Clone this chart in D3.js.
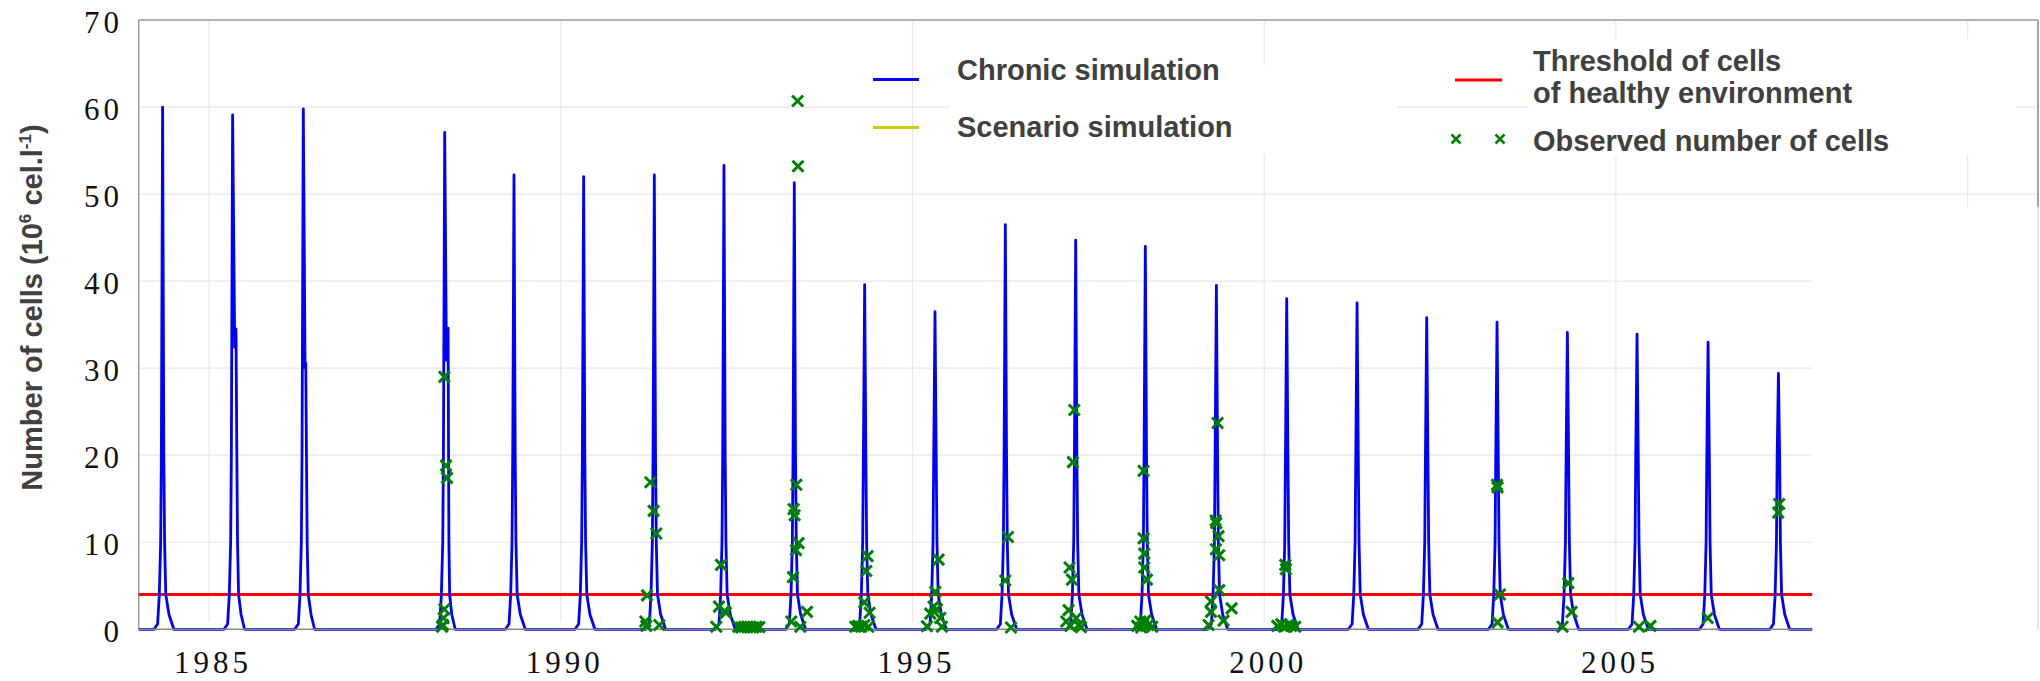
<!DOCTYPE html>
<html>
<head>
<meta charset="utf-8">
<script src="https://cdn.jsdelivr.net/npm/d3@7"></script>
<style>
  body { margin: 0; background: #fff; }
  svg { display: block; }
</style>
</head>
<body>
<svg id="chart"></svg>
<script>
// tick labels
var yTicks = [0, 10, 20, 30, 40, 50, 60, 70];
var xTicks = [1985, 1990, 1995, 2000, 2005];
var xGridYears = [1985, 1990, 1995, 2000, 2005, 2010];

// threshold of cells for a healthy environment
var threshold = 4;

// chronic simulation, [year, 10^6 cells per litre]
var chronicSim = [
  [1984.000, 0],
  [1984.218,0],[1984.269,0.6],[1984.293,4],[1984.312,10],[1984.322,20],[1984.340,60.0],[1984.357,20],[1984.368,10],[1984.385,4],[1984.430,1.7],[1984.500,0],
  [1985.213,0],[1985.264,0.6],[1985.288,4],[1985.307,10],[1985.317,20],[1985.335,59.1],[1985.365,32.4],[1985.383,34.5],[1985.395,20],[1985.405,10],[1985.420,4],[1985.455,1.7],[1985.505,0],
  [1986.218,0],[1986.269,0.6],[1986.293,4],[1986.312,10],[1986.322,20],[1986.340,59.8],[1986.365,30.0],[1986.375,30.6],[1986.385,20],[1986.395,10],[1986.410,4],[1986.450,1.7],[1986.500,0],
  [1988.228,0],[1988.279,0.6],[1988.303,4],[1988.322,10],[1988.332,20],[1988.350,57.1],[1988.375,30.9],[1988.398,34.6],[1988.405,20],[1988.410,10],[1988.420,4],[1988.450,1.7],[1988.500,0],
  [1989.213,0],[1989.264,0.6],[1989.288,4],[1989.307,10],[1989.317,20],[1989.335,52.2],[1989.352,20],[1989.363,10],[1989.380,4],[1989.425,1.7],[1989.495,0],
  [1990.203,0],[1990.254,0.6],[1990.278,4],[1990.297,10],[1990.307,20],[1990.325,52.0],[1990.342,20],[1990.353,10],[1990.370,4],[1990.415,1.7],[1990.485,0],
  [1991.208,0],[1991.259,0.6],[1991.283,4],[1991.302,10],[1991.312,20],[1991.330,52.2],[1991.347,20],[1991.358,10],[1991.375,4],[1991.420,1.7],[1991.490,0],
  [1992.198,0],[1992.249,0.6],[1992.273,4],[1992.292,10],[1992.302,20],[1992.320,53.3],[1992.337,20],[1992.348,10],[1992.365,4],[1992.410,1.7],[1992.480,0],
  [1993.198,0],[1993.249,0.6],[1993.273,4],[1993.292,10],[1993.302,20],[1993.320,51.3],[1993.337,20],[1993.348,10],[1993.365,4],[1993.410,1.7],[1993.480,0],
  [1994.198,0],[1994.249,0.6],[1994.273,4],[1994.292,10],[1994.302,20],[1994.320,39.6],[1994.337,20],[1994.348,10],[1994.365,4],[1994.410,1.7],[1994.480,0],
  [1995.198,0],[1995.249,0.6],[1995.273,4],[1995.292,10],[1995.302,20],[1995.320,36.5],[1995.337,20],[1995.348,10],[1995.365,4],[1995.410,1.7],[1995.480,0],
  [1996.198,0],[1996.249,0.6],[1996.273,4],[1996.292,10],[1996.302,20],[1996.320,46.5],[1996.337,20],[1996.348,10],[1996.365,4],[1996.410,1.7],[1996.480,0],
  [1997.198,0],[1997.249,0.6],[1997.273,4],[1997.292,10],[1997.302,20],[1997.320,44.7],[1997.337,20],[1997.348,10],[1997.365,4],[1997.410,1.7],[1997.480,0],
  [1998.188,0],[1998.239,0.6],[1998.263,4],[1998.282,10],[1998.292,20],[1998.310,44.0],[1998.327,20],[1998.338,10],[1998.355,4],[1998.400,1.7],[1998.470,0],
  [1999.198,0],[1999.249,0.6],[1999.273,4],[1999.292,10],[1999.302,20],[1999.320,39.5],[1999.337,20],[1999.348,10],[1999.365,4],[1999.410,1.7],[1999.480,0],
  [2000.198,0],[2000.249,0.6],[2000.273,4],[2000.292,10],[2000.302,20],[2000.320,38.0],[2000.337,20],[2000.348,10],[2000.365,4],[2000.410,1.7],[2000.480,0],
  [2001.198,0],[2001.249,0.6],[2001.273,4],[2001.292,10],[2001.302,20],[2001.320,37.5],[2001.337,20],[2001.348,10],[2001.365,4],[2001.410,1.7],[2001.480,0],
  [2002.188,0],[2002.239,0.6],[2002.263,4],[2002.282,10],[2002.292,20],[2002.310,35.8],[2002.327,20],[2002.338,10],[2002.355,4],[2002.400,1.7],[2002.470,0],
  [2003.188,0],[2003.239,0.6],[2003.263,4],[2003.282,10],[2003.292,20],[2003.310,35.3],[2003.327,20],[2003.338,10],[2003.355,4],[2003.400,1.7],[2003.470,0],
  [2004.188,0],[2004.239,0.6],[2004.263,4],[2004.282,10],[2004.292,20],[2004.310,34.1],[2004.327,20],[2004.338,10],[2004.355,4],[2004.400,1.7],[2004.470,0],
  [2005.178,0],[2005.229,0.6],[2005.253,4],[2005.272,10],[2005.282,20],[2005.300,33.9],[2005.317,20],[2005.328,10],[2005.345,4],[2005.390,1.7],[2005.460,0],
  [2006.188,0],[2006.239,0.6],[2006.263,4],[2006.282,10],[2006.292,20],[2006.310,33.0],[2006.327,20],[2006.338,10],[2006.355,4],[2006.400,1.7],[2006.470,0],
  [2007.188,0],[2007.239,0.6],[2007.263,4],[2007.282,10],[2007.292,20],[2007.310,29.4],[2007.327,20],[2007.338,10],[2007.355,4],[2007.400,1.7],[2007.470,0],
  [2007.790, 0]
];

// observed number of cells, [year, 10^6 cells per litre]
var observed = [
  [1988.345,29.0],[1988.369,18.8],[1988.383,17.4],[1988.345,2.3],[1988.335,1.3],[1988.326,0.5],[1988.312,0.3],
  [1991.273,16.9],[1991.320,13.6],[1991.358,11.0],[1991.226,3.9],[1991.202,0.9],[1991.216,0.4],[1991.401,0.5],
  [1992.278,7.4],[1992.249,2.6],[1992.325,2.1],[1992.349,1.9],[1992.211,0.3],
  [1992.524,0.3],[1992.567,0.2],[1992.609,0.3],[1992.652,0.25],[1992.695,0.3],[1992.737,0.2],[1992.780,0.3],[1992.823,0.25],
  [1993.367,60.7],[1993.372,53.2],[1993.348,16.6],[1993.310,13.8],[1993.324,13.1],[1993.381,9.9],[1993.344,9.1],[1993.301,6.0],[1993.500,2.0],[1993.277,0.9],[1993.405,0.3],
  [1994.362,8.4],[1994.343,6.7],[1994.315,3.1],[1994.390,1.9],[1994.187,0.3],[1994.230,0.4],[1994.272,0.3],[1994.315,0.5],[1994.372,0.3],
  [1995.371,8.0],[1995.324,4.3],[1995.300,2.6],[1995.348,2.3],[1995.253,1.8],[1995.395,1.3],[1995.206,0.35],[1995.419,0.3],
  [1996.357,10.6],[1996.319,5.6],[1996.400,0.2],
  [1997.300,25.2],[1997.281,19.2],[1997.233,7.1],[1997.267,5.7],[1997.219,2.2],[1997.328,1.3],[1997.186,0.9],[1997.361,0.5],[1997.243,0.4],[1997.395,0.25],
  [1998.285,18.2],[1998.285,10.45],[1998.295,8.7],[1998.295,7.1],[1998.333,5.7],[1998.195,0.4],[1998.238,0.9],[1998.280,0.6],[1998.309,1.0],[1998.351,0.5],[1998.408,0.3],[1998.252,0.2],
  [1999.337,23.7],[1999.309,12.5],[1999.319,12.2],[1999.351,10.7],[1999.314,9.2],[1999.361,8.5],[1999.361,4.5],[1999.243,3.2],[1999.243,2.0],[1999.536,2.4],[1999.422,1.0],[1999.209,0.5],
  [2000.299,7.4],[2000.309,6.9],[2000.186,0.4],[2000.243,0.6],[2000.285,0.3],[2000.342,0.5],[2000.384,0.4],[2000.441,0.3],
  [2003.310,16.6],[2003.317,16.3],[2003.350,4.0],[2003.317,0.8],
  [2004.322,5.3],[2004.370,2.0],[2004.242,0.3],
  [2005.328,0.3],[2005.491,0.4],
  [2006.305,1.3],
  [2007.321,14.4],[2007.308,13.4]
];

var legendLeft = ["Chronic simulation", "Scenario simulation"];
var legendRight = [["Threshold of cells", "of healthy environment"], ["Observed number of cells"]];

var width = 2040, height = 681;
var dataEnd = 2007.79;

var svg = d3.select("#chart")
  .attr("width", width)
  .attr("height", height);

// scales -- the frame runs on to 2011 although the data stop in 2007
var x = d3.scaleLinear().domain([1984, 2011]).range([138.7, 2038]);
var y = d3.scaleLinear().domain([0, 70]).range([629.3, 20]);

var gridColor = "#e8e8e8";
var textColor = "#404040";
var sans = "'Liberation Sans', Arial, Helvetica, sans-serif";
var serif = "'Liberation Serif', 'Times New Roman', serif";

//horizontal grid (upper two lines run across the legend area)
svg.selectAll(".hgrid")
  .data(yTicks.filter(function (d) { return d > 0 && d < 70; }))
  .enter().append("line")
  .attr("class", "hgrid")
  .attr("x1", x(1984))
  .attr("x2", function (d) { return d >= 50 ? x(2011) : x(dataEnd); })
  .attr("y1", function (d) { return y(d); })
  .attr("y2", function (d) { return y(d); })
  .attr("stroke", gridColor)
  .attr("stroke-width", 1.2);

//vertical grid
svg.selectAll(".vgrid")
  .data(xGridYears)
  .enter().append("line")
  .attr("class", "vgrid")
  .attr("x1", function (d) { return x(d); })
  .attr("x2", function (d) { return x(d); })
  .attr("y1", y(70))
  .attr("y2", function (d) { return d > dataEnd ? 207 : y(0) - 7; })
  .attr("stroke", gridColor)
  .attr("stroke-width", 1.2);

//legend backgrounds hide the grid behind them
svg.append("rect").attr("x", 950).attr("y", 65).attr("width", 447).attr("height", 89).attr("fill", "#fff");
svg.append("rect").attr("x", 1529).attr("y", 39).attr("width", 487).attr("height", 116).attr("fill", "#fff");
//empty area to the right of the data
svg.append("rect").attr("x", x(dataEnd) + 1).attr("y", 208).attr("width", x(2011) - x(dataEnd) - 2).attr("height", 440).attr("fill", "#fff");

//frame
svg.append("line").attr("x1", x(1984)).attr("x2", x(2011)).attr("y1", y(70)).attr("y2", y(70))
  .attr("stroke", "#999").attr("stroke-width", 1.5);
svg.append("line").attr("x1", x(1984)).attr("x2", x(1984)).attr("y1", y(70)).attr("y2", y(0))
  .attr("stroke", "#999").attr("stroke-width", 1.5);
svg.append("line").attr("x1", x(2011)).attr("x2", x(2011)).attr("y1", y(70)).attr("y2", 207)
  .attr("stroke", "#888").attr("stroke-width", 1.5);
svg.append("line").attr("x1", x(2011)).attr("x2", x(2011)).attr("y1", 207).attr("y2", y(0))
  .attr("stroke", "#ddd").attr("stroke-width", 1.5);

//threshold
svg.append("line")
  .attr("x1", x(1984)).attr("x2", x(dataEnd))
  .attr("y1", y(threshold)).attr("y2", y(threshold))
  .attr("stroke", "#ff0000").attr("stroke-width", 3);

//chronic simulation
var line = d3.line()
  .x(function (d) { return x(d[0]); })
  .y(function (d) { return y(d[1]); });

svg.append("path")
  .datum(chronicSim)
  .attr("d", line)
  .attr("fill", "none")
  .attr("stroke", "#0000ff")
  .attr("stroke-width", 2.8)
  .attr("stroke-linejoin", "round");

//bottom axis line
svg.append("line").attr("x1", x(1984)).attr("x2", x(dataEnd)).attr("y1", y(0)).attr("y2", y(0))
  .attr("stroke", "#888").attr("stroke-width", 1.5);

//observations
var cross = "M-5.5,-5.5L5.5,5.5M-5.5,5.5L5.5,-5.5";
svg.selectAll(".obs")
  .data(observed)
  .enter().append("path")
  .attr("class", "obs")
  .attr("d", cross)
  .attr("transform", function (d) { return "translate(" + x(d[0]) + "," + y(d[1]) + ")"; })
  .attr("fill", "none")
  .attr("stroke", "#008000")
  .attr("stroke-width", 3);

//tick labels
svg.selectAll(".ylab")
  .data(yTicks)
  .enter().append("text")
  .attr("class", "ylab")
  .attr("x", 123)
  .attr("y", function (d) { return y(d) + 13; })
  .attr("text-anchor", "end")
  .style("font-family", serif)
  .style("font-size", "31px")
  .style("letter-spacing", "4px")
  .style("fill", "#111")
  .text(function (d) { return d; });

svg.selectAll(".xlab")
  .data(xTicks)
  .enter().append("text")
  .attr("class", "xlab")
  .attr("x", function (d) { return x(d) + 4; })
  .attr("y", 673)
  .attr("text-anchor", "middle")
  .style("font-family", serif)
  .style("font-size", "31px")
  .style("letter-spacing", "4px")
  .style("fill", "#111")
  .text(function (d) { return d; });

//y axis title
var title = svg.append("text")
  .attr("transform", "translate(42,307.5) rotate(-90)")
  .attr("text-anchor", "middle")
  .style("font-family", sans)
  .style("font-weight", "bold")
  .style("font-size", "29px")
  .style("fill", textColor);
title.append("tspan").text("Number of cells (10");
title.append("tspan").attr("dy", -11).style("font-size", "17px").text("6");
title.append("tspan").attr("dy", 11).text(" cel.l");
title.append("tspan").attr("dy", -11).style("font-size", "17px").text("-1");
title.append("tspan").attr("dy", 11).text(")");

//legend
var legendText = function (tx, ty, label) {
  svg.append("text")
    .attr("x", tx).attr("y", ty)
    .style("font-family", sans)
    .style("font-weight", "bold")
    .style("font-size", "29px")
    .style("fill", textColor)
    .text(label);
};

svg.append("line").attr("x1", 873).attr("x2", 919).attr("y1", 79.5).attr("y2", 79.5)
  .attr("stroke", "#0000ff").attr("stroke-width", 3);
legendText(957, 79.5, legendLeft[0]);
svg.append("line").attr("x1", 873).attr("x2", 919).attr("y1", 127.5).attr("y2", 127.5)
  .attr("stroke", "#cccc00").attr("stroke-width", 3);
legendText(957, 136.5, legendLeft[1]);

svg.append("line").attr("x1", 1455).attr("x2", 1502).attr("y1", 80).attr("y2", 80)
  .attr("stroke", "#ff0000").attr("stroke-width", 3);
legendText(1533, 71, legendRight[0][0]);
legendText(1533, 103, legendRight[0][1]);
[1456, 1500].forEach(function (mx) {
  svg.append("path")
    .attr("d", "M-4.5,-4.5L4.5,4.5M-4.5,4.5L4.5,-4.5")
    .attr("transform", "translate(" + mx + ",139)")
    .attr("fill", "none")
    .attr("stroke", "#008000")
    .attr("stroke-width", 2.5);
});
legendText(1533, 151, legendRight[1][0]);
</script>
</body>
</html>
